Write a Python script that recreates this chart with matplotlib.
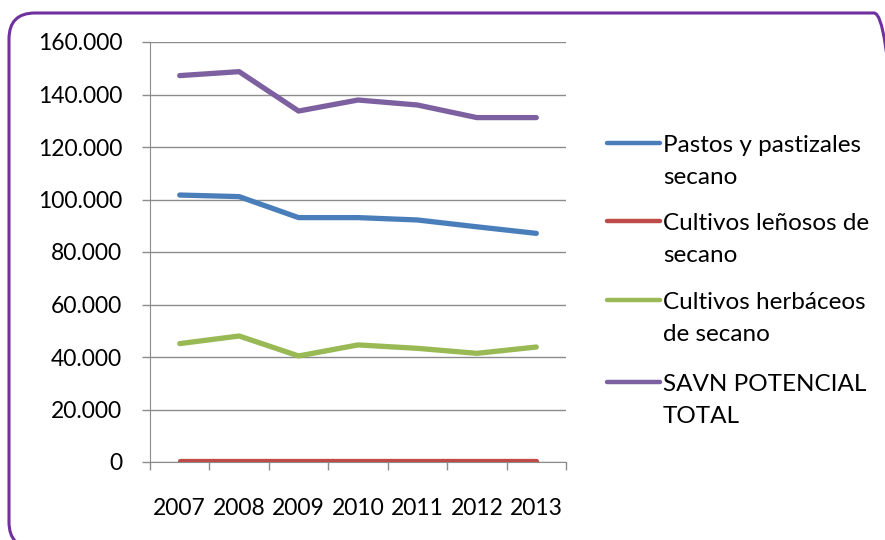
import matplotlib
matplotlib.use("Agg")
import matplotlib.pyplot as plt
from matplotlib.patches import FancyBboxPatch
from matplotlib.lines import Line2D
from matplotlib.transforms import IdentityTransform
from matplotlib.ticker import FixedLocator, FuncFormatter

plt.rcParams['font.family'] = ['Lato', 'DejaVu Sans']

years = ["2007", "2008", "2009", "2010", "2011", "2012", "2013"]
pastos = [101700, 101100, 93100, 93100, 92200, 89600, 87100]
lenosos = [500, 500, 500, 500, 500, 500, 500]
herbaceos = [45100, 48000, 40400, 44600, 43300, 41400, 43800]
savn = [147200, 148700, 133700, 137900, 136000, 131200, 131200]

series_names = ["Pastos y pastizales\nsecano", "Cultivos leñosos de\nsecano",
                "Cultivos herbáceos\nde secano", "SAVN POTENCIAL\nTOTAL"]
series_values = [pastos, lenosos, herbaceos, savn]
series_colors = ["#4A7EBB", "#BE4B48", "#98B954", "#7D60A0"]

W, H = 885, 540
fig = plt.figure(figsize=(W / 100, H / 100), dpi=100)

# rounded purple frame around the chart area (pixel coordinates, y up)
frame = FancyBboxPatch((9, -8), 900 - 9, (H - 13) + 8,
                       boxstyle="round,pad=0,rounding_size=26",
                       transform=IdentityTransform(), fill=False,
                       edgecolor="#7030A0", linewidth=2.2, clip_on=False)
fig.patches.append(frame)

ax = fig.add_axes([150 / W, 1 - 462 / H, (566 - 150) / W, (462 - 42) / H])
x = list(range(len(years)))
for vals, col in zip(series_values, series_colors):
    ax.plot(x, vals, color=col, linewidth=3.8, solid_capstyle='round',
            solid_joinstyle='round', zorder=3)

ax.set_xlim(-0.5, len(years) - 0.5)
ax.set_ylim(0, 160000)
ax.yaxis.set_major_locator(FixedLocator(range(0, 160001, 20000)))
ax.yaxis.set_major_formatter(FuncFormatter(
    lambda v, p: "0" if v == 0 else f"{int(v):,}".replace(",", ".")))
ax.grid(axis='y', color="#8C8C8C", linewidth=1.0)
ax.set_axisbelow(True)

ax.set_xticks([i - 0.5 for i in range(len(years) + 1)])
ax.set_xticklabels([])
ax.set_xticks(x, minor=True)
ax.set_xticklabels(years, minor=True)
ax.tick_params(axis='x', which='major', direction='out', length=6,
               color="#8C8C8C", width=1.0)
ax.tick_params(axis='x', which='minor', length=0, pad=26, labelsize=16.5)
ax.tick_params(axis='y', direction='out', length=6, color="#8C8C8C",
               width=1.0, pad=14, labelsize=16.5)

for side in ['top', 'right']:
    ax.spines[side].set_visible(False)
ax.spines['left'].set_color("#8C8C8C")
ax.spines['bottom'].set_color("#8C8C8C")

# legend drawn beside the plot area
legend_y = [145, 223, 302, 384]
for name, col, yy in zip(series_names, series_colors, legend_y):
    fig.add_artist(Line2D([607 / W, 660 / W], [1 - (yy - 2) / H, 1 - (yy - 2) / H],
                          transform=fig.transFigure, color=col, linewidth=3.2,
                          solid_capstyle='round'))
    fig.text(663 / W, 1 - (yy - 10) / H, name, ha='left', va='top',
             fontsize=17.5, linespacing=1.62, color="black")

fig.savefig("out.png", dpi=100)
